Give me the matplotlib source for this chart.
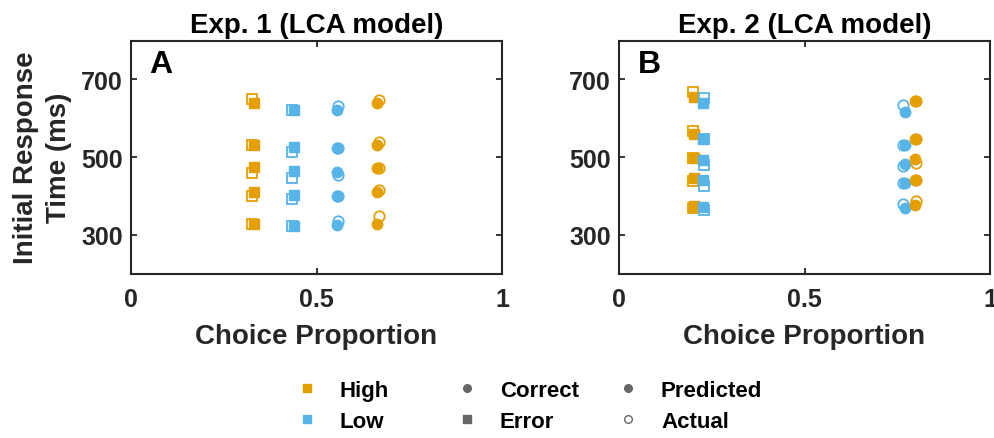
import matplotlib.pyplot as plt
from matplotlib.lines import Line2D

plt.rcParams["font.family"] = ["Liberation Sans", "DejaVu Sans"]
plt.rcParams["font.weight"] = "bold"

ORANGE = "#E69F00"
BLUE = "#56B4E9"
INK = "#262626"
GREY = "#666666"

# quantiles of initial response time (ms)
# Exp. 1 -- choice proportion (x) for predicted / actual
exp1_x_high_err = [0.332, 0.326]
exp1_x_low_err = [0.439, 0.435]
exp1_x_low_cor = [0.554, 0.559]
exp1_x_high_cor = [0.662, 0.669]

exp1_high_err_pred = [328, 409, 473, 532, 640]
exp1_high_err_act = [328, 400, 460, 532, 649]
exp1_low_err_pred = [323, 402, 464, 525, 622]
exp1_low_err_act = [323, 393, 447, 513, 622]
exp1_low_cor_pred = [325, 400, 462, 524, 622]
exp1_low_cor_act = [334, 400, 453, 524, 632]
exp1_high_cor_pred = [328, 409, 471, 532, 640]
exp1_high_cor_act = [348, 416, 471, 539, 647]

# Exp. 2
exp2_x_high_err = [0.201, 0.199]
exp2_x_low_err = [0.227, 0.230]
exp2_x_low_cor = [0.771, 0.766]
exp2_x_high_cor = [0.798, 0.800]

exp2_high_err_pred = [375, 445, 498, 558, 654]
exp2_high_err_act = [368, 439, 498, 566, 668]
exp2_low_err_pred = [372, 441, 492, 547, 639]
exp2_low_err_act = [364, 426, 479, 547, 653]
exp2_low_cor_pred = [369, 433, 481, 532, 617]
exp2_low_cor_act = [379, 433, 477, 530, 633]
exp2_high_cor_pred = [377, 441, 494, 547, 645]
exp2_high_cor_act = [387, 441, 485, 547, 645]

x_ticks = [0, 0.5, 1]
x_ticklabels = ["0", "0.5", "1"]
y_ticks = [300, 500, 700]

panels = [
    ("Exp. 1 (LCA model)", "A", [
        (exp1_x_high_err, exp1_high_err_pred, exp1_high_err_act, ORANGE, "s"),
        (exp1_x_low_err, exp1_low_err_pred, exp1_low_err_act, BLUE, "s"),
        (exp1_x_low_cor, exp1_low_cor_pred, exp1_low_cor_act, BLUE, "o"),
        (exp1_x_high_cor, exp1_high_cor_pred, exp1_high_cor_act, ORANGE, "o"),
    ]),
    ("Exp. 2 (LCA model)", "B", [
        (exp2_x_high_err, exp2_high_err_pred, exp2_high_err_act, ORANGE, "s"),
        (exp2_x_low_err, exp2_low_err_pred, exp2_low_err_act, BLUE, "s"),
        (exp2_x_low_cor, exp2_low_cor_pred, exp2_low_cor_act, BLUE, "o"),
        (exp2_x_high_cor, exp2_high_cor_pred, exp2_high_cor_act, ORANGE, "o"),
    ]),
]

W, H = 995, 439
fig = plt.figure(figsize=(W / 100, H / 100), dpi=100)
lefts = [131, 619]

for i, (title, letter, series) in enumerate(panels):
    ax = fig.add_axes([lefts[i] / W, 1 - 274.5 / H, 371 / W, 233 / H])
    for xs, pred, act, col, mk in series:
        ms = 6.5 if mk == "s" else 7.5
        ax.plot([xs[1]] * len(act), act, ls="none", marker=mk, ms=ms,
                mfc="white", mec=col, mew=1.3)
        ax.plot([xs[0]] * len(pred), pred, ls="none", marker=mk, ms=ms,
                mfc=col, mec=col, mew=1.0)

    ax.set_xlim(0, 1)
    ax.set_ylim(200, 800)
    ax.set_xticks(x_ticks)
    ax.set_xticklabels(x_ticklabels)
    ax.set_yticks(y_ticks)
    ax.tick_params(direction="in", length=4, width=1.3, colors=INK,
                   top=True, right=True, labelsize=18)
    ax.tick_params(axis="x", pad=10)
    ax.tick_params(axis="y", pad=6)
    for sp in ax.spines.values():
        sp.set_linewidth(1.5)
        sp.set_color(INK)
    ax.set_title(title, fontsize=20, fontweight="bold", pad=6)
    ax.set_xlabel("Choice Proportion", fontsize=20, fontweight="bold",
                  color=INK, labelpad=8.5)
    ax.text(0.05, 0.965, letter, transform=ax.transAxes, fontsize=23,
            fontweight="bold", ha="left", va="top")
    if i == 0:
        ax.set_ylabel("Initial Response\nTime (ms)", fontsize=20,
                      fontweight="bold", color=INK, labelpad=6.5,
                      linespacing=1.35)

# three-column legend at the bottom
legend_cols = [
    (307, [("High", "s", ORANGE, ORANGE), ("Low", "s", BLUE, BLUE)]),
    (467, [("Correct", "o", GREY, GREY), ("Error", "s", GREY, GREY)]),
    (628, [("Predicted", "o", GREY, GREY), ("Actual", "o", "white", GREY)]),
]
fs = 16
for xc, items in legend_cols:
    handles = [Line2D([], [], ls="none", marker=mk, ms=5.5, mfc=fc, mec=ec,
                      mew=1.0)
               for _, mk, fc, ec in items]
    labels = [lab for lab, *_ in items]
    fig.legend(handles, labels, loc="center left",
               bbox_to_anchor=((xc - 11) / W, 1 - 407 / H),
               frameon=False, fontsize=fs, handlelength=1.0,
               handletextpad=0.98, borderpad=0, borderaxespad=0,
               labelspacing=0.45)

fig.savefig("out.png", dpi=100, facecolor="white")
